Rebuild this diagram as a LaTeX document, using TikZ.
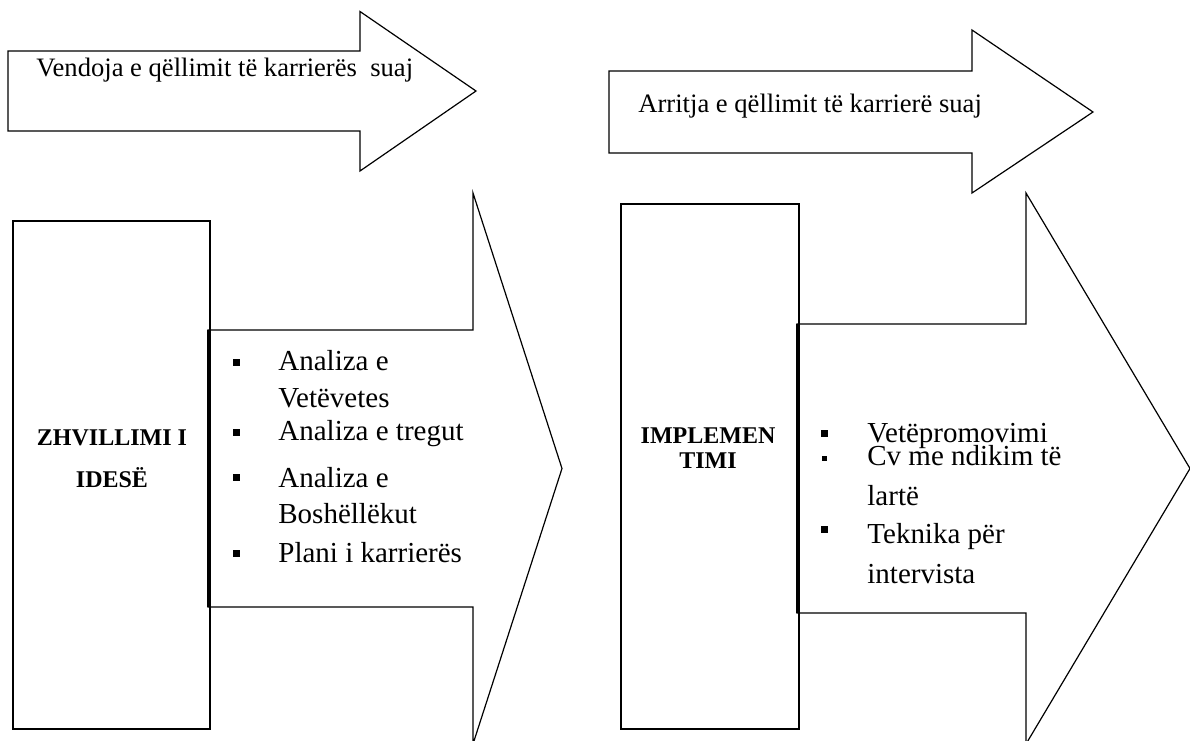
\documentclass[tikz,border=0pt]{standalone}
\usepackage{fontspec}
\setmainfont{Liberation Serif}

\tikzset{
  outline/.style={draw=black, line width=0.6pt, line join=miter},
  framebox/.style={draw=black, line width=1.3pt},
  toptext/.style={anchor=base west, inner sep=0pt, font=\fontsize{13.3}{15}\selectfont},
  itemtext/.style={anchor=base west, inner sep=0pt, font=\fontsize{14.5}{17}\selectfont},
  boldtext/.style={anchor=base, inner sep=0pt, font=\fontsize{12}{14}\selectfont\bfseries},
}

\begin{document}
\begin{tikzpicture}[x=0.5pt, y=-0.5pt]
    % page 1190 x 740 px, y goes down
    \useasboundingbox (0,0) rectangle (1190,740);
    \clip (0,0) rectangle (1190,740);

    % fleche du haut, gauche
    \draw[outline] (8,51) -- (360,51) -- (360,11.5) -- (476,91) -- (360,171) -- (360,131) -- (8,131) -- cycle;
    \node[toptext] (vendoja) at (36,76) {Vendoja e qëllimit të karrierës\ \ suaj};

    % fleche du haut, droite
    \draw[outline] (609,71) -- (972,71) -- (972,30) -- (1093,112) -- (972,193) -- (972,153) -- (609,153) -- cycle;
    \node[toptext] (arritja) at (638,112) {Arritja e qëllimit të karrierë suaj};

    % grandes fleches
    \draw[outline] (208,330) -- (473,330) -- (473,193) -- (562,468.5) -- (473,744) -- (473,607) -- (208,607) -- cycle;
    \draw[outline] (797,324) -- (1026,324) -- (1026,193) -- (1190,468.5) -- (1026,744) -- (1026,613) -- (797,613) -- cycle;
    \draw[line width=1.2pt] (208,330) -- (208,607);
    \draw[line width=1.2pt] (797,324) -- (797,613);

    % cadres
    \draw[framebox] (13,221) rectangle (210,729);
    \draw[framebox] (621,204) rectangle (799,729);

    \node[boldtext] (zhvillimi) at (112,445) {ZHVILLIMI I};
    \node[boldtext] (idese) at (112,487) {IDESË};
    \node[boldtext] (implemen) at (708,443) {IMPLEMEN};
    \node[boldtext] (timi) at (708,468) {TIMI};

    % liste gauche
    \foreach \y/\t in {370/Analiza e, 407/Vetëvetes, 440/Analiza e tregut,
                       487/Analiza e, 523/Boshëllëkut, 562/Plani i karrierës}
        \node[itemtext] (left\y) at (278,\y) {\t};
    \foreach \y in {362,432,477,553}
        \fill (232.5,\y-3.5) rectangle (239.5,\y+3.5);

    % liste droite
    \foreach \y/\t in {442/Vetëpromovimi, 465/Cv me ndikim të, 505/lartë,
                       543/Teknika për, 583/intervista}
        \node[itemtext] (right\y) at (867,\y) {\t};
    \foreach \y/\s in {433/3.5,458/2.5,529/3.5}
        \fill (824-\s,\y-\s) rectangle (824+\s,\y+\s);
\end{tikzpicture}
\end{document}
